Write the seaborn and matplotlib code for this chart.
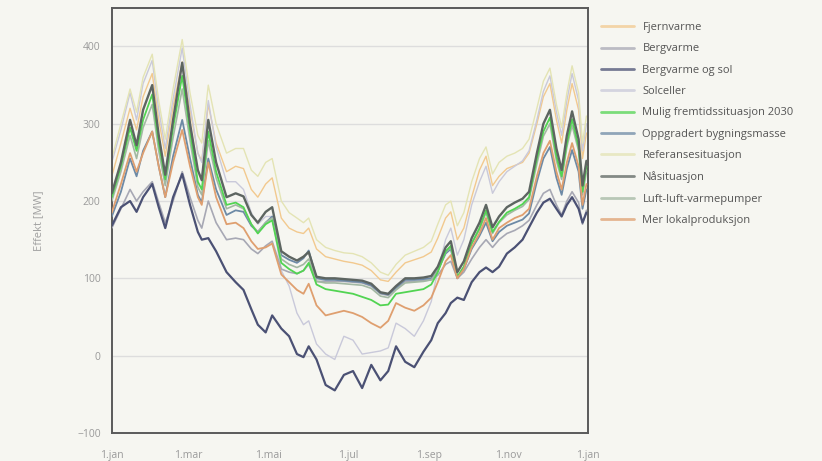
import matplotlib
matplotlib.use("Agg")
import matplotlib.pyplot as plt
import seaborn as sns
import pandas as pd

# Day of year for each sample
days = [0, 7, 14, 19, 24, 31, 36, 41, 47, 54, 60, 66, 69, 74, 80, 88, 95, 101, 107, 112,
        118, 123, 130, 136, 142, 147, 151, 157, 164, 171, 178, 185, 192, 199, 206, 212, 218,
        225, 232, 239, 245, 250, 256, 260, 265, 270, 276, 282, 287, 292, 297, 303, 309, 315,
        320, 326, 331, 336, 341, 345, 349, 353, 358, 361, 364]

fjernvarme = [232, 275, 320, 292, 335, 365, 305, 258, 322, 380, 318, 262, 252, 325, 275, 238,
              245, 242, 215, 205, 222, 230, 178, 165, 160, 158, 165, 138, 128, 125, 122, 120,
              117, 110, 98, 96, 108, 120, 124, 128, 134, 152, 178, 186, 150, 165, 205, 240,
              258, 220, 232, 242, 246, 250, 262, 300, 335, 352, 305, 275, 318, 352, 318, 255, 288]
bergvarme = [165, 190, 215, 200, 212, 225, 198, 172, 200, 238, 205, 175, 165, 200, 172, 150,
             152, 150, 138, 132, 142, 148, 112, 108, 106, 110, 118, 96, 96, 96, 96, 95,
             94, 90, 80, 78, 86, 96, 96, 97, 98, 104, 118, 122, 100, 108, 125, 140,
             150, 140, 150, 158, 162, 168, 175, 195, 210, 215, 195, 182, 200, 212, 198, 170, 188]
bergvarme_sol = [168, 192, 200, 186, 205, 222, 192, 165, 205, 235, 195, 160, 150, 152, 135, 108,
                 95, 85, 60, 40, 30, 52, 35, 25, 2, -2, 12, -5, -38, -45, -25, -20,
                 -42, -12, -32, -20, 12, -8, -15, 5, 20, 42, 55, 68, 75, 72, 95, 108,
                 114, 108, 115, 132, 140, 150, 166, 185, 198, 203, 190, 180, 195, 205, 190, 172, 185]
solceller = [250, 292, 340, 305, 352, 382, 318, 268, 332, 398, 325, 262, 250, 330, 270, 225,
             225, 215, 185, 170, 180, 180, 110, 90, 55, 40, 45, 15, 2, -5, 25, 20,
             2, 4, 6, 10, 42, 35, 25, 45, 70, 110, 150, 165, 130, 150, 195, 225,
             245, 210, 225, 238, 245, 252, 265, 305, 342, 362, 315, 285, 330, 365, 330, 265, 300]
mulig_2030 = [205, 245, 295, 265, 305, 338, 275, 228, 295, 362, 290, 225, 215, 290, 238, 195,
              198, 192, 170, 158, 170, 175, 120, 112, 106, 110, 120, 92, 86, 84, 82, 80,
              76, 72, 65, 66, 80, 82, 84, 86, 92, 108, 135, 142, 102, 115, 145, 165,
              188, 160, 173, 185, 190, 196, 205, 255, 290, 308, 258, 232, 275, 306, 270, 212, 245]
oppgradert = [180, 212, 255, 232, 265, 290, 245, 205, 258, 305, 255, 208, 198, 255, 215, 182,
              188, 186, 168, 160, 172, 180, 130, 124, 120, 126, 136, 100, 98, 98, 97, 96,
              95, 91, 81, 79, 88, 98, 98, 99, 100, 110, 132, 138, 100, 112, 138, 155,
              172, 148, 160, 168, 172, 176, 184, 225, 255, 270, 230, 208, 242, 266, 238, 190, 215]
referanse = [255, 300, 345, 315, 360, 390, 330, 280, 345, 409, 340, 285, 275, 350, 300, 262,
             268, 268, 240, 232, 250, 255, 200, 185, 178, 172, 178, 150, 140, 136, 133, 132,
             128, 120, 108, 104, 118, 130, 135, 140, 148, 170, 195, 200, 168, 185, 225, 255,
             270, 235, 250, 258, 262, 268, 280, 320, 355, 372, 325, 295, 340, 375, 340, 275, 310]
naasituasjon = [210, 250, 305, 272, 318, 350, 285, 234, 305, 379, 300, 240, 227, 305, 250, 205,
                210, 206, 182, 172, 186, 192, 135, 128, 123, 128, 134, 102, 100, 100, 99, 98,
                97, 93, 82, 80, 90, 100, 100, 101, 103, 115, 140, 148, 108, 122, 152, 172,
                195, 166, 180, 192, 198, 203, 212, 262, 300, 318, 268, 240, 285, 316, 280, 220, 252]
luft_luft = [200, 238, 285, 255, 295, 325, 265, 220, 282, 345, 278, 218, 208, 278, 230, 190,
             195, 190, 170, 160, 172, 178, 125, 118, 114, 118, 125, 96, 94, 94, 93, 92,
             91, 87, 77, 75, 85, 94, 95, 96, 98, 110, 134, 140, 102, 115, 145, 163,
             185, 158, 172, 182, 188, 193, 202, 248, 284, 300, 252, 228, 270, 298, 265, 208, 238]
mer_lokal = [185, 222, 262, 238, 262, 290, 245, 205, 250, 292, 245, 205, 195, 250, 205, 170,
             172, 165, 148, 138, 140, 145, 105, 95, 85, 80, 93, 65, 52, 55, 58, 55,
             50, 42, 36, 45, 68, 62, 58, 65, 75, 95, 122, 130, 100, 112, 140, 158,
             178, 150, 165, 172, 178, 182, 190, 232, 262, 278, 238, 215, 250, 275, 245, 195, 222]

series_names = ["Fjernvarme", "Bergvarme", "Bergvarme og sol", "Solceller",
                "Mulig fremtidssituasjon 2030", "Oppgradert bygningsmasse",
                "Referansesituasjon", "Nåsituasjon", "Luft-luft-varmepumper",
                "Mer lokalproduksjon"]
series_values = [fjernvarme, bergvarme, bergvarme_sol, solceller, mulig_2030, oppgradert,
                 referanse, naasituasjon, luft_luft, mer_lokal]

tick_days = [0, 59, 120, 181, 243, 304, 365]
tick_labels = ["1.jan", "1.mar", "1.mai", "1.jul", "1.sep", "1.nov", "1.jan"]

colors = ["#f2c98e", "#a7a8b4", "#4b5174", "#c9c9da", "#52d452", "#6d8aa6",
          "#e4e4b4", "#5d6561", "#a3b8a3", "#df9f6f"]
widths = [1.0, 1.2, 1.6, 1.0, 1.3, 1.3, 1.0, 1.7, 1.2, 1.3]
zorders = [2, 3, 5, 2, 4, 3, 2, 5, 3, 4]

frames = []
for name, vals in zip(series_names, series_values):
    frames.append(pd.DataFrame({"dag": days, "Effekt": vals, "serie": name}))
df = pd.concat(frames, ignore_index=True)

sns.set_theme(style="white")
bg = "#f6f6f1"
plt.rcParams["font.family"] = ["Open Sans", "DejaVu Sans"]

fig = plt.figure(figsize=(8.22, 4.61), dpi=100, facecolor=bg)
ax = fig.add_axes([0.136, 0.061, 0.579, 0.922], facecolor=bg)

for name, c, lw, z in zip(series_names, colors, widths, zorders):
    sub = df[df["serie"] == name]
    sns.lineplot(data=sub, x="dag", y="Effekt", ax=ax, color=c, linewidth=lw,
                 label=name, zorder=z)

ax.set_xlim(0, 365)
ax.set_ylim(-100, 450)
ax.set_yticks([-100, 0, 100, 200, 300, 400])
ax.set_xticks(tick_days)
ax.set_xticklabels(tick_labels)
ax.yaxis.grid(True, color="#dddddd", linewidth=1.0)
ax.set_axisbelow(True)
ax.tick_params(axis="both", labelsize=7.5, colors="#9a9a9a", length=0, pad=8)
ax.tick_params(axis="x", pad=12)
for s in ax.spines.values():
    s.set_color("#5a5a5a")
    s.set_linewidth(1.4)

ax.set_xlabel("")
ax.set_ylabel("Effekt [MW]", fontsize=8, color="#a0a0a0", labelpad=24)

leg = ax.legend(loc="upper left", bbox_to_anchor=(1.018, 0.977), frameon=False,
                fontsize=8, labelspacing=0.93, handlelength=3.0, handletextpad=0.75,
                borderaxespad=0)
for t in leg.get_texts():
    t.set_color("#555555")
for h in leg.get_lines():
    h.set_linewidth(2.0)
    h.set_alpha(0.75)

fig.savefig("out.png", dpi=100, facecolor=bg)
